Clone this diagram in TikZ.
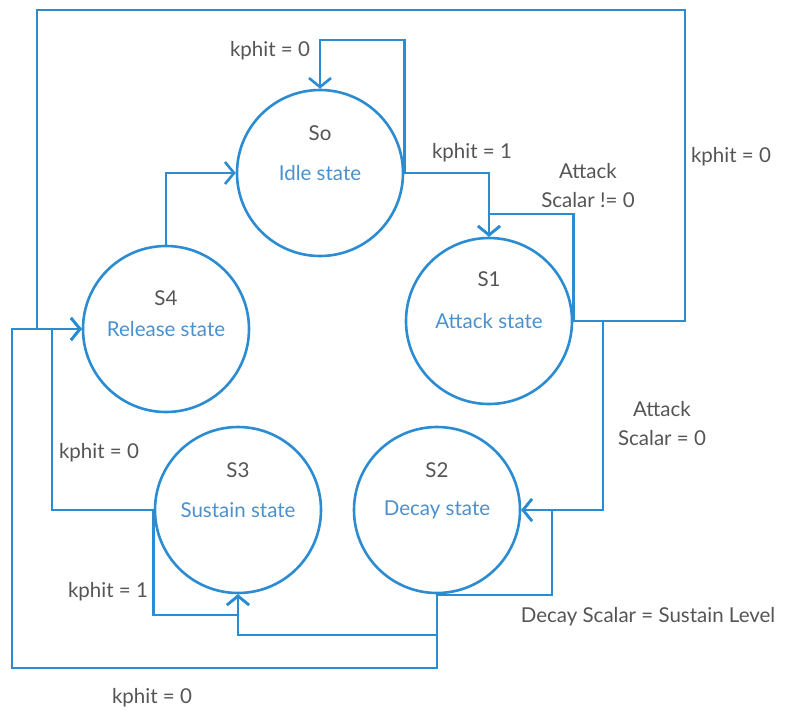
\documentclass[tikz,border=0pt]{standalone}
\usepackage{fontspec}
\setmainfont{Lato}
\usetikzlibrary{arrows.meta}
\definecolor{lineblue}{RGB}{44,140,210}
\definecolor{txtgray}{RGB}{85,85,85}
\definecolor{txtblue}{RGB}{75,145,205}
\tikzset{
  state/.style={circle,draw=lineblue,line width=2.6pt,minimum size=166pt,inner sep=0pt,font=\fontsize{20.5}{24}\selectfont,text=txtblue},
  sname/.style={font=\fontsize{20.5}{24}\selectfont,text=txtgray},
  lbl/.style={font=\fontsize{20.5}{29}\selectfont,text=txtgray,align=center,inner sep=0pt},
  conn/.style={draw=lineblue,line width=2.6pt},
  arr/.style={conn,-{Straight Barb[length=9pt,width=22pt,line width=2.6pt]}}
}
\begin{document}
\begin{tikzpicture}[x=1pt,y=-1pt]
\useasboundingbox[fill=white] (0,0) rectangle (790,710);
% states
\node[state] (s0) at (320,173) {Idle state};
\node[state] (s1) at (489,321) {Attack state};
\node[state] (s2) at (437,510) {Decay state};
\node[state] (s3) at (238,510) {Sustain state};
\node[state] (s4) at (166,329) {Release state};
\node[sname] (n0) at ([yshift=40pt]s0.center) {So};
\node[sname] (n1) at ([yshift=42pt]s1.center) {S1};
\node[sname] (n2) at ([yshift=40pt]s2.center) {S2};
\node[sname] (n3) at ([yshift=40pt]s3.center) {S3};
\node[sname] (n4) at ([yshift=31pt]s4.center) {S4};
% bend points
\coordinate (l0) at (320,40);
\coordinate (l1) at (575,214);
\coordinate (o1) at (685,10);
\coordinate (o2) at (37,10);
\coordinate (c12) at (603,510);
\coordinate (c22) at (552,595);
\coordinate (c23) at (437,635);
\coordinate (c24) at (12,668);
\coordinate (c33) at (155,615);
\coordinate (c34) at (52,510);
% connectors
\draw[arr] (s0.east) |- (l0) -| (s0.north);
\draw[arr] (s0.east) -| (s1.north);
\draw[arr] (s1.east) |- (l1) -| (s1.north);
\draw[arr] (s1.east) -| (o1) -- (o2) |- (s4.west);
\draw[arr] (s1.east) -| (c12) -- (s2.east);
\draw[arr] (s2.south) |- (c22) |- (s2.east);
\draw[arr] (s2.south) |- (c23) -| (s3.south);
\draw[arr] (s2.south) |- (c24) |- (s4.west);
\draw[arr] (s3.west) |- (c33) -| (s3.south);
\draw[arr] (s3.west) -- (c34) |- (s4.west);
\draw[arr] (s4.north) |- (s0.west);
% labels
\node[lbl] (t1) at (270,51) {kphit = 0};
\node[lbl] (t2) at (472,153) {kphit = 1};
\node[lbl] (t3) at (588,186) {Attack\\Scalar != 0};
\node[lbl] (t4) at (731,157) {kphit = 0};
\node[lbl] (t5) at (662,424) {Attack\\Scalar = 0};
\node[lbl] (t6) at (648,617) {Decay Scalar = Sustain Level};
\node[lbl] (t7) at (99,453) {kphit = 0};
\node[lbl] (t8) at (108,592) {kphit = 1};
\node[lbl] (t9) at (152,698) {kphit = 0};
\end{tikzpicture}
\end{document}
